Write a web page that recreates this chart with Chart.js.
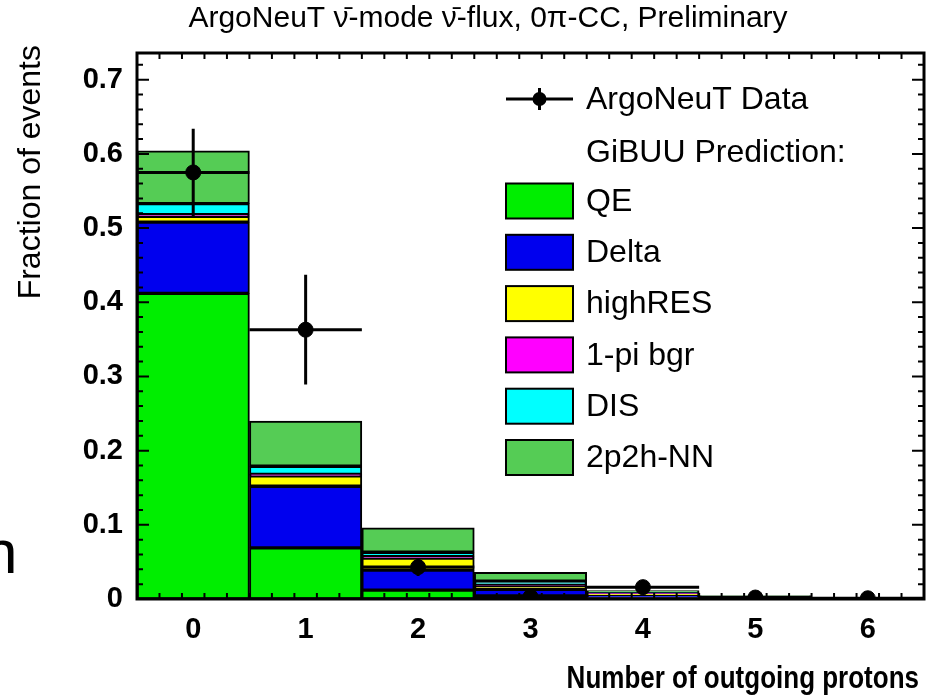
<!DOCTYPE html>
<html>
<head>
<meta charset="utf-8">
<script src="https://cdn.jsdelivr.net/npm/chart.js@4.4.1/dist/chart.umd.min.js"></script>
<style>
  html, body { margin: 0; padding: 0; background: #fff; }
  canvas { display: block; }
</style>
</head>
<body>
<canvas id="chart" width="940" height="698"></canvas>
<script>
// bins: number of outgoing protons
const categories = ['0', '1', '2', '3', '4', '5', '6'];

// GiBUU prediction, stacked components
const qe      = [0.412, 0.069, 0.012, 0.004, 0.002, 0.001, 0.0003];
const delta   = [0.096, 0.083, 0.027, 0.009, 0.003, 0.001, 0.0002];
const highRes = [0.008, 0.014, 0.016, 0.005, 0.002, 0.0008, 0.0002];
const onePi   = [0.002, 0.002, 0.002, 0.001, 0.0005, 0.0002, 0.0001];
const dis     = [0.015, 0.011, 0.006, 0.005, 0.001, 0.0005, 0.0001];
const nn2p2h  = [0.071, 0.061, 0.033, 0.012, 0.003, 0.001, 0.0003];

// ArgoNeuT data with errors
const dataValues = [0.575, 0.363, 0.043, 0.003, 0.016, 0.002, 0.001];
const dataErrors = [0.059, 0.074, 0.012, 0.004, 0.007, 0.003, 0.002];

const yTicks = [0, 0.1, 0.2, 0.3, 0.4, 0.5, 0.6, 0.7];
const yMax = 0.736;

const FONT = "'Liberation Sans', Arial, Helvetica, sans-serif";

function barSet(label, values, color) {
    return {
        type: 'bar',
        label: label,
        data: values,
        backgroundColor: color,
        borderColor: '#000',
        borderWidth: 2,
        borderSkipped: false,
        categoryPercentage: 1.0,
        barPercentage: 1.0,
        stack: 'mc',
        order: 1
    };
}

// text stretched a little vertically, like the original
function tallText(ctx, text, x, y, sy) {
    ctx.save();
    ctx.translate(x, y);
    ctx.scale(1, sy);
    ctx.fillText(text, 0, 0);
    ctx.restore();
}

// error bars, frame with inside ticks
const rootStyle = {
    id: 'rootStyle',
    afterDatasetsDraw(chart) {
        const ctx = chart.ctx;
        const x = chart.scales.x, y = chart.scales.y;
        const a = chart.chartArea;
        const half = a.width / categories.length / 2;

        ctx.save();
        ctx.strokeStyle = '#000';
        ctx.lineWidth = 3;
        dataValues.forEach(function(v, i) {
            const px = x.getPixelForValue(i);
            const py = y.getPixelForValue(v);
            ctx.beginPath();
            ctx.moveTo(px - half, py);
            ctx.lineTo(px + half, py);
            ctx.moveTo(px, y.getPixelForValue(Math.min(yMax, v + dataErrors[i])));
            ctx.lineTo(px, y.getPixelForValue(Math.max(0, v - dataErrors[i])));
            ctx.stroke();
        });

        // ticks
        ctx.lineWidth = 2;
        ctx.beginPath();
        const step = a.width / categories.length;
        for (let k = 0; k <= categories.length * 5; k++) {
            const px = a.left + k * step / 5;
            if (px <= a.left + 1 || px >= a.right - 1) continue;
            const len = ((k - 2.5) % 5 === 0) ? 12 : 6;
            ctx.moveTo(px, a.bottom); ctx.lineTo(px, a.bottom - len);
            ctx.moveTo(px, a.top); ctx.lineTo(px, a.top + len);
        }
        for (let k = 1; k * 0.02 < yMax; k++) {
            const py = y.getPixelForValue(k * 0.02);
            const len = (k % 5 === 0) ? 12 : 6;
            ctx.moveTo(a.left, py); ctx.lineTo(a.left + len, py);
            ctx.moveTo(a.right, py); ctx.lineTo(a.right - len, py);
        }
        ctx.stroke();

        ctx.lineWidth = 3;
        ctx.strokeRect(a.left, a.top, a.width, a.height);
        ctx.restore();
    },
    afterDraw(chart) {
        const ctx = chart.ctx;
        ctx.save();
        ctx.fillStyle = '#000';
        ctx.textBaseline = 'middle';

        // title
        ctx.font = '30px ' + FONT;
        ctx.textAlign = 'center';
        tallText(ctx, 'ArgoNeuT \u03BD\u0304-mode \u03BD\u0304-flux, 0\u03C0-CC, Preliminary', 488, 19, 1.0);

        // x title
        ctx.font = 'bold 26px ' + FONT;
        ctx.textAlign = 'right';
        tallText(ctx, 'Number of outgoing protons', 919, 680, 1.18);

        // y title
        ctx.save();
        ctx.translate(31, 45);
        ctx.rotate(-Math.PI / 2);
        ctx.font = '32px ' + FONT;
        ctx.textAlign = 'right';
        ctx.fillText('Fraction of events', 0, 0);
        ctx.restore();

        // stray glyph at left edge
        ctx.font = '62px ' + FONT;
        ctx.textAlign = 'left';
        ctx.fillText('n', -17, 556);

        // legend
        ctx.font = '32px ' + FONT;
        ctx.textAlign = 'left';
        const bx = 506, bw = 67, bh = 35, tx = 586;
        ctx.lineWidth = 3;
        ctx.beginPath();
        ctx.moveTo(bx, 99); ctx.lineTo(bx + bw, 99);
        ctx.moveTo(bx + bw / 2, 88); ctx.lineTo(bx + bw / 2, 110);
        ctx.stroke();
        ctx.beginPath();
        ctx.arc(bx + bw / 2, 99, 7, 0, Math.PI * 2);
        ctx.fill();
        ctx.fillText('ArgoNeuT Data', tx, 100);
        ctx.fillText('GiBUU Prediction:', tx, 153);

        const bars = chart.data.datasets.filter(function(d) { return d.type === 'bar'; });
        bars.forEach(function(d, i) {
            const cy = 201 + i * 51.3;
            ctx.fillStyle = d.backgroundColor;
            ctx.fillRect(bx, cy - bh / 2, bw, bh);
            ctx.lineWidth = 2;
            ctx.strokeStyle = '#000';
            ctx.strokeRect(bx, cy - bh / 2, bw, bh);
            ctx.fillStyle = '#000';
            ctx.fillText(d.label, tx, cy + 1);
        });
        ctx.restore();
    }
};

new Chart(document.getElementById('chart'), {
    data: {
        labels: categories,
        datasets: [
            barSet('QE', qe, '#00ee00'),
            barSet('Delta', delta, '#0000ee'),
            barSet('highRES', highRes, '#ffff00'),
            barSet('1-pi bgr', onePi, '#ff00ff'),
            barSet('DIS', dis, '#00ffff'),
            barSet('2p2h-NN', nn2p2h, '#55cc55'),
            {
                type: 'line',
                label: 'ArgoNeuT Data',
                data: dataValues,
                showLine: false,
                pointRadius: 7.5,
                pointBackgroundColor: '#000',
                pointBorderColor: '#000',
                stack: 'data',
                order: 0
            }
        ]
    },
    options: {
        responsive: false,
        animation: false,
        layout: { padding: { top: 53, right: 16, left: 0, bottom: 0 } },
        plugins: {
            legend: { display: false },
            tooltip: { enabled: false },
            title: { display: false }
        },
        scales: {
            x: {
                stacked: true,
                offset: true,
                grid: { display: false, drawTicks: false },
                border: { display: false },
                ticks: {
                    color: '#000',
                    padding: 14,
                    maxRotation: 0,
                    font: { family: FONT, size: 29, weight: 'bold' }
                },
                afterFit: function(s) { s.height = 99; }
            },
            y: {
                stacked: true,
                min: 0,
                max: yMax,
                grid: { display: false, drawTicks: false },
                border: { display: false },
                afterBuildTicks: function(s) { s.ticks = yTicks.map(function(v) { return { value: v }; }); },
                ticks: {
                    color: '#000',
                    padding: 14,
                    font: { family: FONT, size: 29, weight: 'bold' },
                    callback: function(v) { return v === 0 ? '0' : v.toFixed(1); }
                },
                afterFit: function(s) { s.width = 137; }
            }
        }
    },
    plugins: [rootStyle]
});
</script>
</body>
</html>
